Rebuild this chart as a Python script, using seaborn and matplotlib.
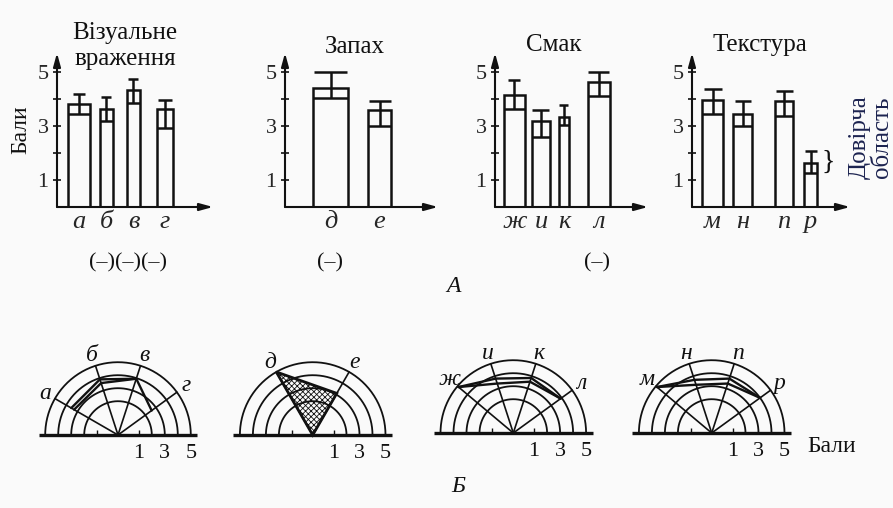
import numpy as np
import pandas as pd
import matplotlib
matplotlib.use("Agg")
import matplotlib.pyplot as plt
import seaborn as sns
from matplotlib.patches import Polygon

# top row: mean score with lower / upper bound of the confidence region
groups = ["Візуальне\nвраження", "Запах", "Смак", "Текстура"]
labels = [["а", "б", "в", "г"], ["д", "е"], ["ж", "и", "к", "л"], ["м", "н", "п", "р"]]
means = [[3.83, 3.62, 4.32, 3.62], [4.39, 3.58], [4.15, 3.20, 3.33, 4.64], [3.97, 3.44, 3.91, 1.63]]
lows = [[3.43, 3.19, 3.86, 2.94], [4.02, 3.00], [3.64, 2.60, 3.02, 4.10], [3.43, 2.99, 3.36, 1.26]]
highs = [[4.17, 4.07, 4.73, 3.95], [4.99, 3.92], [4.71, 3.60, 3.77, 5.00], [4.38, 3.91, 4.30, 2.07]]
minus_marks = ["(–)(–)(–)", "(–)", "(–)", ""]
yticks = [1, 2, 3, 4, 5]
ytick_labels = ["1", "", "3", "", "5"]

# bottom row: profile lines read along the rays of each half-circle
profiles = [
    [[3.3, 3.6, 3.95, 2.6], [3.55, 3.9, 3.95]],
    [[5.0, 3.1]],
    [[4.9, 3.4, 3.55, 3.9], [4.9, 3.8, 3.85, 3.9]],
    [[4.9, 3.3, 3.4, 4.0], [4.9, 3.7, 3.8, 4.0]],
]
ring_values = [2, 3, 4, 5]
scale_labels = [1, 3, 5]

# layout in pixels
W, H = 893, 508
top_x = [57, 285, 495, 692]
top_w = [156, 153, 153, 158]
bar_pos = [[22, 49.5, 76.5, 108], [45.5, 94.5], [19.5, 46, 69, 104], [20.5, 50.5, 92, 118.5]]
bar_w = [[22, 13, 13, 16], [35, 23], [21, 18, 10, 22], [21, 19, 18, 13]]
cap_w = [[12, 10, 10, 14], [33, 22], [12, 17, 9, 21], [18, 16, 17, 12]]
title_xy = [(125, 46), (355, 47), (554, 45), (760, 45)]
minus_xy = [(128, 263), (330, 263), (597, 263), (0, 0)]
centers = [(118, 435), (312.7, 435), (513.3, 433), (711.7, 433)]
ray_angles = [[150, 108, 72, 36], [120, 60], [140, 108, 72, 36], [140, 108, 72, 36]]
unit = 13.0
ink = "#111111"

sns.set_style("white")
plt.rcParams["font.family"] = ["Liberation Serif", "DejaVu Serif"]
plt.rcParams["hatch.linewidth"] = 0.6
fig = plt.figure(figsize=(W / 100, H / 100), dpi=100, facecolor="#fafafa")


def px(x, y):
    return x / W, 1 - y / H


def arrow(ax, start, end):
    ax.annotate("", xy=end, xytext=start, xycoords="axes fraction",
                arrowprops=dict(arrowstyle="-|>,head_length=0.8,head_width=0.22",
                                lw=1.5, color=ink, shrinkA=0, shrinkB=0))


y0, ytop = 207, 53
for i in range(4):
    ax = fig.add_axes([top_x[i] / W, 1 - y0 / H, top_w[i] / W, (y0 - ytop) / H])
    ax.set_facecolor("none")
    df = pd.DataFrame({"pos": bar_pos[i], "mean": means[i]})
    sns.barplot(data=df, x="pos", y="mean", native_scale=True, fill=False,
                color=ink, linewidth=1.8, errorbar=None, ax=ax)
    for patch, c, w in zip(ax.patches, bar_pos[i], bar_w[i]):
        patch.set_x(c - w / 2)
        patch.set_width(w)
        patch.set_edgecolor(ink)
    c = np.array(bar_pos[i])
    bw = np.array(bar_w[i])
    cw = np.array(cap_w[i])
    ax.hlines(lows[i], c - bw / 2, c + bw / 2, color=ink, lw=1.8)
    ax.vlines(c, lows[i], highs[i], color=ink, lw=1.8)
    ax.hlines(highs[i], c - cw / 2, c + cw / 2, color=ink, lw=1.8)

    ax.set_xlim(0, top_w[i])
    ax.set_ylim(0, (y0 - ytop) / 27)
    sns.despine(ax=ax, left=True, bottom=True)
    ax.set_yticks(yticks, ytick_labels)
    ax.set_xticks(bar_pos[i], labels[i])
    ax.tick_params(axis="y", direction="inout", length=6, width=1.2, color=ink,
                   labelsize=16, pad=3, left=True)
    ax.tick_params(axis="x", length=0, labelsize=19, pad=3)
    for t in ax.get_xticklabels():
        t.set_fontstyle("italic")
    ax.set_xlabel("")
    ax.set_ylabel("")
    ax.grid(False)
    arrow(ax, (0, 0), (0, 1))
    arrow(ax, (0, 0), (1, 0))

    tx, ty = title_xy[i]
    fig.text(*px(tx, ty), groups[i], ha="center", va="center", fontsize=18,
             color=ink, linespacing=1.2)
    if minus_marks[i]:
        fig.text(*px(*minus_xy[i]), minus_marks[i], ha="center", va="center",
                 fontsize=16, color=ink)
    if i == 3:
        ax.text(bar_pos[i][3] + 11, (lows[i][3] + highs[i][3]) / 2, "}",
                ha="left", va="center", fontsize=20, color=ink)

fig.text(*px(21, 130), "Бали", rotation=90, ha="center", va="center", fontsize=17, color=ink)
fig.text(*px(871, 137), "Довірча\nобласть", rotation=90, ha="center", va="center",
         fontsize=18, color="#1c2350", linespacing=1.0)
fig.text(*px(453, 287), "А", ha="center", va="center", fontsize=17, style="italic", color=ink)

# bottom row: half-circle profiles
for i in range(4):
    cx, cy = centers[i]
    ax = fig.add_axes([(cx - 7 * unit) / W, 1 - (cy + 2 * unit) / H, 14 * unit / W, 9.5 * unit / H])
    ax.set_xlim(-7, 7)
    ax.set_ylim(-2, 7.5)
    ax.axis("off")
    th = np.linspace(0, np.pi, 200)
    for v in ring_values:
        r = v + 0.6
        ax.plot(r * np.cos(th), r * np.sin(th), color=ink, lw=1.3)
    ax.plot([-6.1, 6.1], [0, 0], color=ink, lw=2.4, solid_capstyle="butt")
    ax.vlines([-1.6, 1.6], 0, 0.35, color=ink, lw=1.0)
    ang = np.radians(ray_angles[i])
    ax.plot(np.vstack([np.zeros_like(ang), 5.6 * np.cos(ang)]),
            np.vstack([np.zeros_like(ang), 5.6 * np.sin(ang)]), color=ink, lw=1.2)
    for a, lab in zip(ang, labels[i]):
        ax.text(6.45 * np.cos(a), 6.45 * np.sin(a), lab, ha="center", va="center",
                fontsize=17, style="italic", color=ink)
    for prof in profiles[i]:
        r = np.array(prof) + 0.6
        a = ang[:len(prof)]
        if i == 1:
            pts = np.column_stack([np.r_[0, r * np.cos(a)], np.r_[0, r * np.sin(a)]])
            ax.add_patch(Polygon(pts, closed=True, fill=False, hatch="xxxxxx",
                                 edgecolor=ink, lw=2.0))
        else:
            ax.plot(r * np.cos(a), r * np.sin(a), color=ink, lw=1.7)
    for v in scale_labels:
        ax.text(v + 0.6, -1.4, str(v), ha="center", va="center", fontsize=16, color=ink)

fig.text(*px(832, 446), "Бали", ha="center", va="center", fontsize=17, color=ink)
fig.text(*px(458, 487), "Б", ha="center", va="center", fontsize=17, style="italic", color=ink)

fig.savefig("out.png", dpi=100, facecolor=fig.get_facecolor())
